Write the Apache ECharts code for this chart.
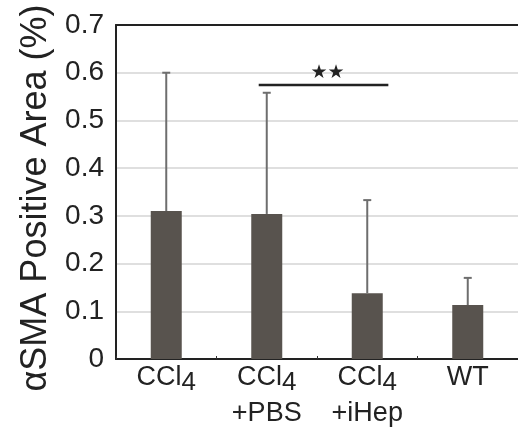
<!DOCTYPE html>
<html>
<head>
<meta charset="utf-8">
<script src="https://cdn.jsdelivr.net/npm/echarts@6/dist/echarts.min.js"></script>
<style>
  html, body { margin: 0; padding: 0; background: #fff; }
  #main { width: 518px; height: 436px; }
</style>
</head>
<body>
<div id="main"></div>
<script>
var chartDom = document.getElementById('main');
var myChart = echarts.init(chartDom);

// data
var groups = ['CCl4', 'CCl4+PBS', 'CCl4+iHep', 'WT'];
var means = [0.31, 0.304, 0.138, 0.113];
var errTops = [0.60, 0.558, 0.333, 0.170];
var yTicks = [0, 0.1, 0.2, 0.3, 0.4, 0.5, 0.6, 0.7];
// significance bracket between group 1 and group 2 (indices)
var sigFrom = 1, sigTo = 2, sigLevel = 0.574, sigText = '★★';

var labelText = {
    'CCl4': '{t|CCl}{s|4}',
    'CCl4+PBS': '{t|CCl}{s|4}\n{t|+PBS}',
    'CCl4+iHep': '{t|CCl}{s|4}\n{t|+iHep}',
    'WT': '{t|WT}'
};

var errData = groups.map(function (g, i) {
    return [i, means[i], errTops[i]];
});

var option = {
    animation: false,
    grid: { left: 116, right: 0, top: 25, bottom: 77, outerBoundsMode: 'none', containLabel: false },
    xAxis: [{
        type: 'category',
        data: groups,
        axisLine: { lineStyle: { color: '#222', width: 2 } },
        axisTick: { show: true, inside: true, length: 3, lineStyle: { color: '#333' } },
        axisLabel: {
            margin: 1,
            interval: 0,
            formatter: function (v) { return labelText[v]; },
            rich: {
                t: { fontFamily: 'Liberation Sans', fontSize: 27, color: '#222', lineHeight: 36 },
                s: { fontFamily: 'Liberation Sans', fontSize: 26, color: '#222', lineHeight: 18, verticalAlign: 'bottom' }
            }
        }
    }, {
        type: 'category',
        position: 'top',
        data: groups,
        axisLine: { lineStyle: { color: '#222', width: 2 } },
        axisTick: { show: false },
        axisLabel: { show: false }
    }],
    yAxis: {
        type: 'value',
        min: 0,
        max: 0.7,
        interval: 0.1,
        name: 'αSMA Positive Area (%)',
        nameLocation: 'middle',
        nameGap: 61,
        nameTextStyle: { fontFamily: 'Liberation Sans', fontSize: 36, color: '#222', padding: [0, 12, 0, 0] },
        axisLine: { show: true, lineStyle: { color: '#222', width: 2 } },
        axisTick: { show: false },
        axisLabel: {
            margin: 12,
            fontFamily: 'Liberation Sans',
            fontSize: 28,
            color: '#222',
            formatter: function (v) {
                var t = yTicks.find(function (k) { return Math.abs(k - v) < 1e-9; });
                return t === 0 ? '0' : t.toFixed(1);
            }
        },
        splitLine: { show: true, lineStyle: { color: '#d4d4d4', width: 1.5 } }
    },
    series: [{
        type: 'bar',
        data: means,
        barWidth: 31,
        itemStyle: { color: '#58534e' },
        z: 2
    }, {
        type: 'custom',
        data: errData,
        z: 3,
        renderItem: function (params, api) {
            var lo = api.coord([api.value(0), api.value(1)]);
            var hi = api.coord([api.value(0), api.value(2)]);
            var cap = 4;
            var style = { stroke: '#6e6e6e', lineWidth: 2 };
            return {
                type: 'group',
                children: [
                    { type: 'line', shape: { x1: lo[0], y1: lo[1], x2: hi[0], y2: hi[1] }, style: style },
                    { type: 'line', shape: { x1: hi[0] - cap, y1: hi[1], x2: hi[0] + cap, y2: hi[1] }, style: style }
                ]
            };
        }
    }, {
        type: 'custom',
        data: [[sigFrom, sigTo, sigLevel]],
        z: 4,
        renderItem: function (params, api) {
            var band = api.size([1, 0])[0];
            var a = api.coord([api.value(0), api.value(2)]);
            var b = api.coord([api.value(1), api.value(2)]);
            var x1 = a[0] - band * 0.08;
            var x2 = b[0] + band * 0.21;
            return {
                type: 'group',
                children: [
                    { type: 'line', shape: { x1: x1, y1: a[1], x2: x2, y2: a[1] }, style: { stroke: '#222', lineWidth: 2.5 } },
                    { type: 'text', x: (x1 + x2) / 2 + 4, y: a[1] - 3, style: {
                        text: sigText, fill: '#222', font: '19px DejaVu Sans',
                        textAlign: 'center', textVerticalAlign: 'bottom'
                    } }
                ]
            };
        }
    }]
};

myChart.setOption(option);
</script>
</body>
</html>
